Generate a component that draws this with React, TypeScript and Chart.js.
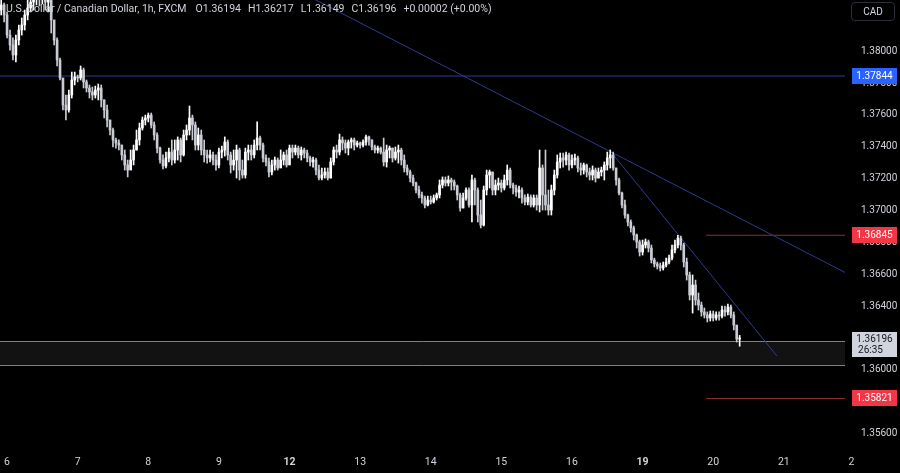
import React, { useEffect, useRef } from 'react';
import { Chart, registerables } from 'chart.js';

Chart.register(...registerables);

// ---- data ----
const firstHour = -2; // hourly candles, hour 0 = day "6" 00:00
const firstOpen = 1.38258;
const closes = [
  1.38290, 1.38227, 1.38101, 1.38039, 1.37976, 1.38070, 1.38133, 1.38164, 1.38227, 1.38271, 1.38308, 1.38352,
  1.38371, 1.38340, 1.38359, 1.38308, 1.38321, 1.38196, 1.38070, 1.37945, 1.37832, 1.37662, 1.37631, 1.37725,
  1.37819, 1.37838, 1.37832, 1.37882, 1.37807, 1.37769, 1.37744, 1.37725, 1.37756, 1.37769, 1.37694, 1.37631,
  1.37568, 1.37505, 1.37443, 1.37424, 1.37411, 1.37349, 1.37286, 1.37254, 1.37317, 1.37380, 1.37443, 1.37518,
  1.37568, 1.37581, 1.37599, 1.37537, 1.37474, 1.37392, 1.37317, 1.37280, 1.37330, 1.37367, 1.37317, 1.37380,
  1.37443, 1.37349, 1.37474, 1.37505, 1.37581, 1.37537, 1.37411, 1.37474, 1.37380, 1.37349, 1.37330, 1.37349,
  1.37317, 1.37286, 1.37367, 1.37380, 1.37430, 1.37349, 1.37286, 1.37317, 1.37380, 1.37254, 1.37223, 1.37367,
  1.37380, 1.37349, 1.37411, 1.37455, 1.37411, 1.37330, 1.37305, 1.37242, 1.37286, 1.37317, 1.37267, 1.37317,
  1.37349, 1.37286, 1.37392, 1.37367, 1.37392, 1.37349, 1.37380, 1.37361, 1.37330, 1.37305, 1.37317, 1.37254,
  1.37204, 1.37223, 1.37242, 1.37204, 1.37305, 1.37380, 1.37367, 1.37443, 1.37424, 1.37392, 1.37430, 1.37443,
  1.37411, 1.37424, 1.37411, 1.37430, 1.37462, 1.37443, 1.37399, 1.37380, 1.37392, 1.37367, 1.37305, 1.37380,
  1.37392, 1.37330, 1.37367, 1.37380, 1.37317, 1.37267, 1.37242, 1.37204, 1.37173, 1.37129, 1.37098, 1.37079,
  1.37035, 1.37066, 1.37054, 1.37079, 1.37098, 1.37160, 1.37192, 1.37173, 1.37192, 1.37179, 1.37154, 1.37098,
  1.37016, 1.37079, 1.37129, 1.37035, 1.37192, 1.37129, 1.36972, 1.36909, 1.37129, 1.37223, 1.37242, 1.37129,
  1.37160, 1.37173, 1.37142, 1.37192, 1.37254, 1.37160, 1.37142, 1.37116, 1.37129, 1.37079, 1.37054, 1.37085,
  1.37035, 1.37079, 1.37035, 1.37267, 1.37098, 1.37035, 1.37003, 1.37129, 1.37223, 1.37305, 1.37330, 1.37317,
  1.37349, 1.37286, 1.37317, 1.37330, 1.37267, 1.37254, 1.37286, 1.37242, 1.37223, 1.37254, 1.37204, 1.37242,
  1.37254, 1.37286, 1.37330, 1.37349, 1.37267, 1.37192, 1.37110, 1.37035, 1.36972, 1.36928, 1.36891, 1.36847,
  1.36803, 1.36740, 1.36784, 1.36803, 1.36765, 1.36690, 1.36665, 1.36652, 1.36640, 1.36658, 1.36677, 1.36702,
  1.36753, 1.36784, 1.36828, 1.36784, 1.36677, 1.36596, 1.36470, 1.36533, 1.36439, 1.36407, 1.36364, 1.36345,
  1.36326, 1.36351, 1.36326, 1.36345, 1.36338, 1.36376, 1.36364, 1.36395, 1.36345, 1.36282, 1.36194, 1.36196,
];
const highs = [
  1.38321, 1.38302, 1.38246, 1.38133, 1.38083, 1.38101, 1.38164, 1.38208, 1.38258, 1.38321, 1.38352, 1.38415,
  1.38415, 1.38396, 1.38409, 1.38371, 1.38384, 1.38334, 1.38145, 1.38083, 1.37957, 1.37819, 1.37725, 1.37756,
  1.37869, 1.37869, 1.37850, 1.37907, 1.37894, 1.37819, 1.37788, 1.37775, 1.37781, 1.37794, 1.37788, 1.37694,
  1.37662, 1.37568, 1.37518, 1.37455, 1.37443, 1.37411, 1.37380, 1.37317, 1.37380, 1.37411, 1.37505, 1.37549,
  1.37587, 1.37599, 1.37612, 1.37612, 1.37556, 1.37487, 1.37399, 1.37349, 1.37367, 1.37392, 1.37443, 1.37443,
  1.37462, 1.37455, 1.37505, 1.37537, 1.37656, 1.37599, 1.37556, 1.37518, 1.37505, 1.37443, 1.37380, 1.37380,
  1.37367, 1.37349, 1.37392, 1.37405, 1.37462, 1.37443, 1.37367, 1.37380, 1.37411, 1.37392, 1.37317, 1.37392,
  1.37411, 1.37411, 1.37443, 1.37556, 1.37468, 1.37424, 1.37349, 1.37330, 1.37317, 1.37336, 1.37330, 1.37380,
  1.37367, 1.37380, 1.37411, 1.37411, 1.37411, 1.37405, 1.37399, 1.37392, 1.37380, 1.37342, 1.37336, 1.37330,
  1.37286, 1.37267, 1.37267, 1.37267, 1.37330, 1.37399, 1.37411, 1.37480, 1.37462, 1.37443, 1.37443, 1.37455,
  1.37455, 1.37436, 1.37430, 1.37443, 1.37474, 1.37468, 1.37443, 1.37411, 1.37405, 1.37399, 1.37455, 1.37411,
  1.37405, 1.37392, 1.37399, 1.37411, 1.37392, 1.37349, 1.37286, 1.37254, 1.37223, 1.37179, 1.37154, 1.37116,
  1.37091, 1.37091, 1.37091, 1.37098, 1.37110, 1.37192, 1.37211, 1.37211, 1.37217, 1.37204, 1.37192, 1.37160,
  1.37110, 1.37110, 1.37142, 1.37142, 1.37223, 1.37204, 1.37142, 1.37066, 1.37154, 1.37254, 1.37254, 1.37242,
  1.37192, 1.37204, 1.37192, 1.37223, 1.37286, 1.37267, 1.37173, 1.37160, 1.37154, 1.37142, 1.37098, 1.37104,
  1.37098, 1.37098, 1.37098, 1.37380, 1.37286, 1.37380, 1.37129, 1.37160, 1.37254, 1.37349, 1.37361, 1.37361,
  1.37367, 1.37361, 1.37349, 1.37355, 1.37342, 1.37298, 1.37298, 1.37292, 1.37267, 1.37280, 1.37267, 1.37267,
  1.37273, 1.37305, 1.37367, 1.37380, 1.37367, 1.37267, 1.37204, 1.37116, 1.37066, 1.36978, 1.36941, 1.36903,
  1.36853, 1.36815, 1.36815, 1.36822, 1.36815, 1.36784, 1.36702, 1.36677, 1.36671, 1.36677, 1.36702, 1.36721,
  1.36784, 1.36815, 1.36845, 1.36840, 1.36796, 1.36702, 1.36614, 1.36596, 1.36564, 1.36483, 1.36426, 1.36389,
  1.36364, 1.36370, 1.36370, 1.36364, 1.36364, 1.36401, 1.36401, 1.36414, 1.36407, 1.36364, 1.36276, 1.36217,
];
const lows = [
  1.38227, 1.38183, 1.38083, 1.38007, 1.37945, 1.37932, 1.38039, 1.38101, 1.38133, 1.38196, 1.38246, 1.38258,
  1.38290, 1.38283, 1.38296, 1.38258, 1.38246, 1.38114, 1.38039, 1.37907, 1.37819, 1.37631, 1.37568, 1.37618,
  1.37706, 1.37788, 1.37807, 1.37819, 1.37769, 1.37744, 1.37706, 1.37694, 1.37706, 1.37694, 1.37650, 1.37581,
  1.37524, 1.37474, 1.37399, 1.37392, 1.37380, 1.37317, 1.37254, 1.37211, 1.37267, 1.37286, 1.37380, 1.37411,
  1.37505, 1.37537, 1.37556, 1.37518, 1.37443, 1.37361, 1.37298, 1.37261, 1.37267, 1.37305, 1.37286, 1.37298,
  1.37317, 1.37305, 1.37342, 1.37443, 1.37474, 1.37443, 1.37380, 1.37380, 1.37349, 1.37305, 1.37298, 1.37305,
  1.37286, 1.37254, 1.37267, 1.37330, 1.37342, 1.37317, 1.37236, 1.37254, 1.37204, 1.37192, 1.37204, 1.37204,
  1.37317, 1.37317, 1.37330, 1.37380, 1.37380, 1.37305, 1.37280, 1.37211, 1.37223, 1.37254, 1.37254, 1.37273,
  1.37286, 1.37273, 1.37317, 1.37330, 1.37349, 1.37330, 1.37317, 1.37330, 1.37305, 1.37280, 1.37273, 1.37223,
  1.37192, 1.37192, 1.37204, 1.37192, 1.37204, 1.37286, 1.37330, 1.37349, 1.37380, 1.37361, 1.37349, 1.37392,
  1.37380, 1.37399, 1.37392, 1.37399, 1.37411, 1.37411, 1.37380, 1.37361, 1.37361, 1.37355, 1.37280, 1.37273,
  1.37330, 1.37305, 1.37317, 1.37298, 1.37286, 1.37242, 1.37223, 1.37179, 1.37154, 1.37110, 1.37079, 1.37047,
  1.37016, 1.37029, 1.37041, 1.37047, 1.37066, 1.37079, 1.37142, 1.37154, 1.37154, 1.37129, 1.37129, 1.37066,
  1.36997, 1.37016, 1.37066, 1.37022, 1.36928, 1.37035, 1.36928, 1.36891, 1.36903, 1.37098, 1.37142, 1.37098,
  1.37098, 1.37129, 1.37116, 1.37129, 1.37160, 1.37142, 1.37104, 1.37091, 1.37079, 1.37047, 1.37035, 1.37035,
  1.37022, 1.37022, 1.37003, 1.36991, 1.37003, 1.37003, 1.36972, 1.36972, 1.37098, 1.37204, 1.37267, 1.37273,
  1.37286, 1.37254, 1.37267, 1.37286, 1.37242, 1.37223, 1.37229, 1.37211, 1.37192, 1.37192, 1.37179, 1.37204,
  1.37217, 1.37192, 1.37254, 1.37267, 1.37254, 1.37160, 1.37098, 1.37016, 1.36953, 1.36903, 1.36865, 1.36815,
  1.36765, 1.36715, 1.36721, 1.36765, 1.36740, 1.36671, 1.36646, 1.36633, 1.36621, 1.36627, 1.36646, 1.36665,
  1.36690, 1.36734, 1.36765, 1.36753, 1.36646, 1.36564, 1.36439, 1.36357, 1.36407, 1.36376, 1.36338, 1.36326,
  1.36301, 1.36307, 1.36307, 1.36313, 1.36313, 1.36326, 1.36338, 1.36345, 1.36326, 1.36251, 1.36175, 1.36149,
];

const dayTicks = [0, 24, 48, 72, 96, 120, 144, 168, 192, 216, 240, 264, 288];
const dayLabels = ['6', '7', '8', '9', '12', '13', '14', '15', '16', '19', '20', '21', '2'];
const weekStartLabels = ['12', '19'];
const priceTicks = [1.356, 1.358, 1.36, 1.362, 1.364, 1.366, 1.368, 1.37, 1.372, 1.374, 1.376, 1.378, 1.38];
const xRange = { min: -2.4, max: 284.8 };
const yRange = { min: 1.35523, max: 1.38321 };

const levelBlue = 1.37844;
const levelRedUpper = 1.36845;
const levelRedLower = 1.35821;
const redLevelStart = 237.6;
const lastPrice = 1.36196;
const countdown = '26:35';
const zoneTop = 1.3618;
const zoneBottom = 1.3603;
const trendLong = [{ x: 104, y: 1.3833 }, { x: 285, y: 1.3661 }];
const trendSteep = [{ x: 205.3, y: 1.37367 }, { x: 261.7, y: 1.36087 }];

const symbolTitle = 'U.S. Dollar / Canadian Dollar, 1h, FXCM';
const ohlcParts = ['O1.36194', 'H1.36217', 'L1.36149', 'C1.36196', '+0.00002 (+0.00%)'];
const currencyLabel = 'CAD';

const FONT = 'Roboto, "Liberation Sans", sans-serif';
const TEXT = '#d1d4dc';
const BLUE_LINE = '#2e3a8e';
const RED_LINE = '#8a2e33';

const noPadding = (s: any) => {
  s.paddingTop = 0;
  s.paddingBottom = 0;
  s.paddingLeft = 0;
  s.paddingRight = 0;
};

export default function App() {
  const ref = useRef<HTMLCanvasElement | null>(null);

  useEffect(() => {
    const canvas = ref.current;
    if (!canvas) return;

    const opens = [firstOpen, ...closes.slice(0, -1)];
    const hours = closes.map((_, k) => firstHour + k);
    const colors = closes.map((c, k) => (c >= opens[k] ? '#ffffff' : '#c9ccd4'));

    const overlay = {
      id: 'overlay',
      beforeDatasetsDraw(chart: any) {
        const { ctx, chartArea, scales } = chart;
        const yT = Math.round(scales.y.getPixelForValue(zoneTop)) + 0.5;
        const yB = Math.round(scales.y.getPixelForValue(zoneBottom)) + 0.5;
        ctx.save();
        ctx.fillStyle = '#121212';
        ctx.fillRect(chartArea.left, yT, chartArea.right - chartArea.left, yB - yT);
        ctx.strokeStyle = '#7c7f88';
        ctx.lineWidth = 1;
        ctx.beginPath();
        ctx.moveTo(chartArea.left, yT);
        ctx.lineTo(chartArea.right, yT);
        ctx.moveTo(chartArea.left, yB);
        ctx.lineTo(chartArea.right, yB);
        ctx.stroke();
        ctx.restore();
      },
      afterDraw(chart: any) {
        const { ctx, scales } = chart;
        const y = scales.y;
        const bx = 852;
        const bw = 45;
        ctx.save();
        ctx.font = `10px ${FONT}`;
        ctx.textBaseline = 'middle';
        ctx.textAlign = 'center';
        const box = (price: number, bg: string, fg: string) => {
          const py = y.getPixelForValue(price);
          ctx.fillStyle = bg;
          ctx.fillRect(bx, Math.round(py) - 8, bw, 16);
          ctx.fillStyle = fg;
          ctx.fillText(price.toFixed(5), bx + bw / 2, Math.round(py));
        };
        box(levelBlue, '#2962ff', '#ffffff');
        box(levelRedUpper, '#f23645', '#ffffff');
        box(levelRedLower, '#f23645', '#ffffff');
        // last price label with countdown
        const py = Math.round(y.getPixelForValue(lastPrice));
        ctx.fillStyle = '#d1d4dc';
        ctx.fillRect(bx, py - 7, bw, 25);
        ctx.fillStyle = '#131722';
        ctx.fillText(lastPrice.toFixed(5), bx + bw / 2, py);
        ctx.fillText(countdown, bx + bw / 2 - 4, py + 11);
        // trailing day label beyond the plot edge
        const xs = scales.x;
        const lastIdx = dayTicks.length - 1;
        ctx.fillStyle = TEXT;
        ctx.font = `10.5px ${FONT}`;
        ctx.fillText(dayLabels[lastIdx], xs.getPixelForValue(dayTicks[lastIdx]) - 3, xs.top + 16);
        ctx.restore();
      },
    };

    const lineDs = (data: any[], color: string) =>
      ({
        type: 'line',
        data,
        borderColor: color,
        borderWidth: 1,
        pointRadius: 0,
        fill: false,
        order: 5,
      }) as any;

    const chart = new Chart(canvas, {
      type: 'bar',
      data: {
        datasets: [
          lineDs(trendLong, BLUE_LINE),
          lineDs(trendSteep, BLUE_LINE),
          lineDs([{ x: xRange.min - 1, y: levelBlue }, { x: xRange.max + 1, y: levelBlue }], BLUE_LINE),
          lineDs([{ x: redLevelStart, y: levelRedUpper }, { x: xRange.max + 1, y: levelRedUpper }], RED_LINE),
          lineDs([{ x: redLevelStart, y: levelRedLower }, { x: xRange.max + 1, y: levelRedLower }], RED_LINE),
          {
            type: 'bar',
            data: hours.map((h, k) => ({ x: h, y: [lows[k], highs[k]] })),
            backgroundColor: colors,
            barThickness: 1,
            grouped: false,
            order: 2,
          } as any,
          {
            type: 'bar',
            data: hours.map((h, k) => ({ x: h, y: [opens[k], closes[k]] })),
            backgroundColor: colors,
            barThickness: 2,
            minBarLength: 1,
            grouped: false,
            order: 1,
          } as any,
        ],
      },
      options: {
        animation: false,
        responsive: false,
        maintainAspectRatio: false,
        layout: { padding: 0 },
        plugins: { legend: { display: false }, tooltip: { enabled: false }, title: { display: false } },
        scales: {
          x: {
            type: 'linear',
            min: xRange.min,
            max: xRange.max,
            offset: false,
            grid: { display: false, drawTicks: false },
            border: { display: false },
            afterBuildTicks: (s: any) => {
              s.ticks = dayTicks.slice(0, -1).map((v) => ({ value: v }));
            },
            afterFit: (s: any) => {
              s.height = 27;
              noPadding(s);
            },
            ticks: {
              autoSkip: false,
              maxRotation: 0,
              padding: 10,
              color: TEXT,
              font: (c: any) => {
                const lbl = dayLabels[dayTicks.indexOf(c.tick?.value)];
                return {
                  family: FONT,
                  size: 10.5,
                  weight: weekStartLabels.includes(lbl) ? 'bold' : 'normal',
                } as any;
              },
              callback: (v: any) => dayLabels[dayTicks.indexOf(Number(v))] ?? '',
            },
          },
          y: {
            type: 'linear',
            position: 'right',
            min: yRange.min,
            max: yRange.max,
            grid: { display: false, drawTicks: false },
            border: { display: false },
            afterBuildTicks: (s: any) => {
              s.ticks = priceTicks.map((v) => ({ value: v }));
            },
            afterFit: (s: any) => {
              s.width = 55;
              noPadding(s);
            },
            ticks: {
              autoSkip: false,
              padding: 16,
              color: TEXT,
              font: { family: FONT, size: 10 },
              callback: (v: any) => Number(v).toFixed(5),
            },
          },
        },
      } as any,
      plugins: [overlay],
    });

    return () => chart.destroy();
  }, []);

  return (
    <div
      style={{
        position: 'fixed',
        left: 0,
        top: 0,
        width: 900,
        height: 473,
        background: '#000000',
        overflow: 'hidden',
      }}
    >
      <canvas ref={ref} width={900} height={473} style={{ display: 'block', width: 900, height: 473 }} />
      <div
        style={{
          position: 'absolute',
          left: 6,
          top: 2,
          fontFamily: FONT,
          fontSize: 10.5,
          lineHeight: '14px',
          color: TEXT,
          whiteSpace: 'pre',
        }}
      >
        {symbolTitle}
        {ohlcParts.map((p, i) => (
          <span key={i} style={{ marginLeft: i === 0 ? 9 : 7 }}>
            {p}
          </span>
        ))}
      </div>
      <div
        style={{
          position: 'absolute',
          left: 851,
          top: 2,
          width: 42,
          height: 17,
          border: '1px solid #2a2e39',
          borderRadius: 4,
          fontFamily: FONT,
          fontSize: 10,
          lineHeight: '17px',
          textAlign: 'center',
          color: TEXT,
        }}
      >
        {currencyLabel}
      </div>
    </div>
  );
}
